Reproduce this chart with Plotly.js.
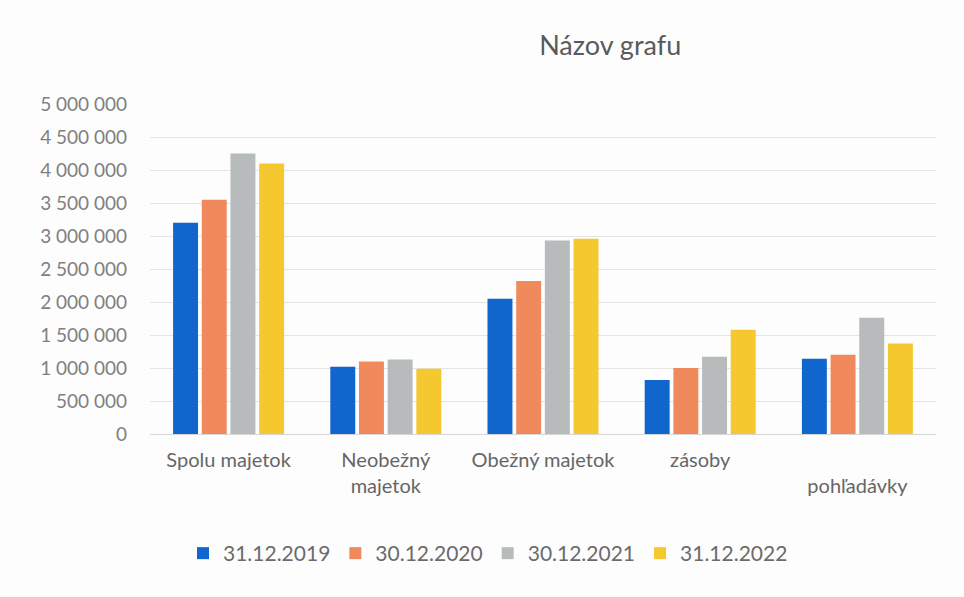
<!DOCTYPE html>
<html><head><meta charset="utf-8">
<script src="https://cdn.plot.ly/plotly-3.0.1.min.js"></script>
<style>body{margin:0;background:#fff}#c{width:964px;height:597px}</style>
</head><body><div id="c"></div>
<script>
const categories = ["Spolu majetok", "Neobežný majetok", "Obežný majetok", "zásoby", "pohľadávky"];
const tickLabels = ["Spolu majetok", "Neobežný<br>majetok", "Obežný majetok", "zásoby", "<br>pohľadávky"];
const seriesNames = ["31.12.2019", "30.12.2020", "30.12.2021", "31.12.2022"];
const v2019 = [3200000, 1020000, 2050000, 820000, 1140000];
const v2020 = [3550000, 1100000, 2320000, 1000000, 1200000];
const v2021 = [4250000, 1130000, 2930000, 1170000, 1760000];
const v2022 = [4100000, 990000, 2960000, 1580000, 1370000];
const colors = ["#1066cc", "#f08a5d", "#b8bbbc", "#f5c830"];
const values = [v2019, v2020, v2021, v2022];

const traces = values.map((v, i) => ({
  type: "bar", name: seriesNames[i], x: categories, y: v,
  marker: {color: colors[i]}, hoverinfo: "y"
}));

const layout = {
  width: 964, height: 597,
  paper_bgcolor: "#fdfdfd", plot_bgcolor: "#fdfdfd",
  separators: ", ",
  font: {family: "Lato, 'Open Sans', sans-serif", color: "#6b6b6b", size: 17},
  title: {text: "Názov grafu", x: 0.633, xanchor: "center", y: 0.94, font: {size: 27, color: "#5a5a5a"}},
  margin: {l: 150, r: 28, t: 104, b: 163},
  barmode: "group", bargap: 0.27, bargroupgap: 0.13,
  xaxis: {tickvals: categories, ticktext: tickLabels, showline: false, ticks: "", ticklabelstandoff: 12,
          tickfont: {size: 20, color: "#666666"}},
  yaxis: {range: [0, 5000000], dtick: 500000, tickformat: ",d", gridcolor: "#e4e4e4",
          zeroline: true, zerolinecolor: "#d6d6d6", ticks: "", ticklabelstandoff: 22,
          tickfont: {size: 19, color: "#808080"}},
  legend: {orientation: "h", x: 0.43, xanchor: "center", y: -0.3, yanchor: "top",
           font: {size: 21, color: "#6b6b6b"}, itemwidth: 30, tracegroupgap: 0}
};
Plotly.newPlot("c", traces, layout, {displayModeBar: false, staticPlot: true});
</script></body></html>
